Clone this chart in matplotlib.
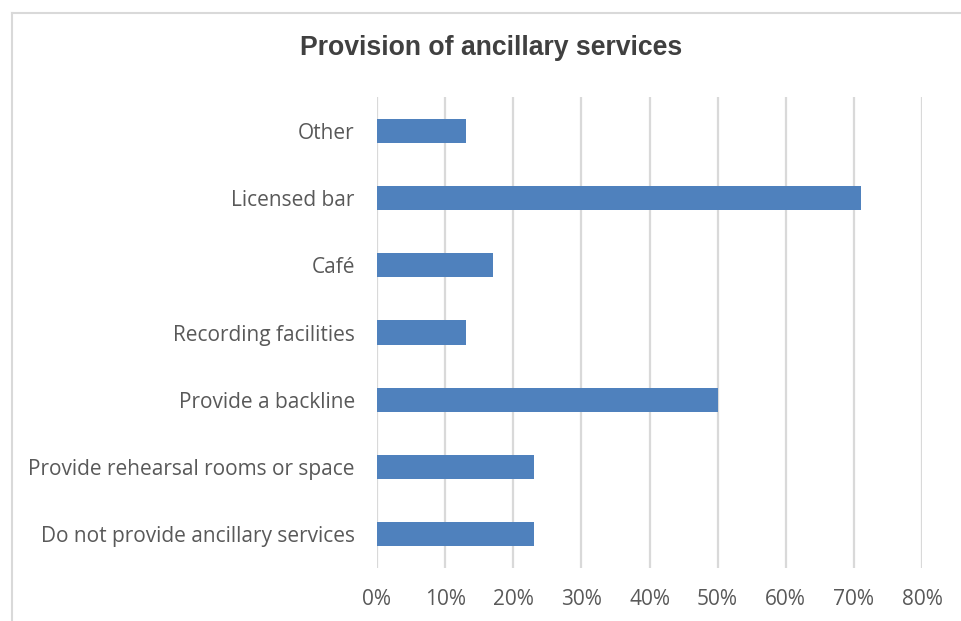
import matplotlib.pyplot as plt
from matplotlib.lines import Line2D
from matplotlib.ticker import PercentFormatter

categories = ["Do not provide ancillary services", "Provide rehearsal rooms or space",
              "Provide a backline", "Recording facilities", "Café", "Licensed bar", "Other"]
shares = [23, 23, 50, 13, 17, 71, 13]
xticks = [0, 10, 20, 30, 40, 50, 60, 70, 80]

plt.rcParams['font.family'] = ['Open Sans', 'DejaVu Sans']

W, H = 962, 621
fig = plt.figure(figsize=(W / 100, H / 100), dpi=100)
ax = fig.add_axes([377 / W, 1 - 568 / H, (922 - 377) / W, (568 - 97) / H])

ax.barh(range(len(categories)), shares, height=0.36, color='#4F81BD', zorder=3)
ax.set_xlim(0, 80)
ax.set_ylim(-0.5, len(categories) - 0.5)
ax.set_xticks(xticks)
ax.xaxis.set_major_formatter(PercentFormatter(decimals=0))
ax.set_yticks(range(len(categories)))
ax.set_yticklabels(categories)
ax.tick_params(length=0, labelsize=15, colors='#595959')
ax.tick_params(axis='x', pad=15)
ax.tick_params(axis='y', pad=16)
ax.grid(axis='x', color='#D9D9D9', linewidth=1.6, zorder=0)
for s in ax.spines.values():
    s.set_visible(False)

fig.text(491 / W, 1 - 48 / H, "Provision of ancillary services", ha='center', va='center',
         fontsize=19.2, fontweight='bold', color='#404040', family=['Liberation Sans', 'DejaVu Sans'])

# chart frame (top and left edges)
fig.add_artist(Line2D([12 / W, 1], [1 - 13 / H] * 2, color='#D9D9D9', linewidth=1.5))
fig.add_artist(Line2D([12 / W] * 2, [0, 1 - 13 / H], color='#D9D9D9', linewidth=1.5))

fig.savefig('out.png', dpi=100)
